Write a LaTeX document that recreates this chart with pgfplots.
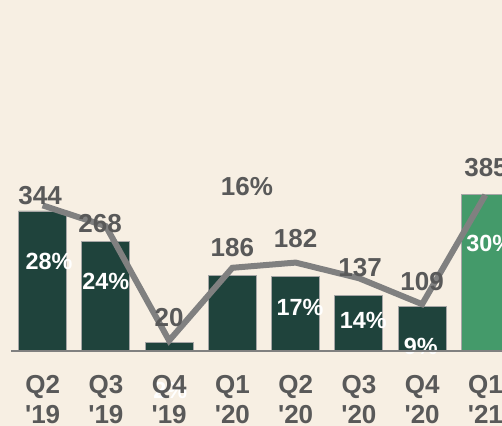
\documentclass[border=0pt]{standalone}
\usepackage{pgfplots}
\pgfplotsset{compat=1.18}
\usepackage{fontspec}
\setmainfont{Liberation Sans}
\definecolor{bg}{HTML}{F7EFE3}
\definecolor{dgreen}{HTML}{1F433C}
\definecolor{lgreen}{HTML}{449A6A}
\definecolor{lgray}{HTML}{808080}
\definecolor{tgray}{HTML}{595959}
\begin{document}
\begin{tikzpicture}[x=1pt,y=1pt]
\path[use as bounding box] (0,0) rectangle (251,213);
\fill[bg] (0,0) rectangle (251,213);
\clip (0,0) rectangle (251,213);
% bars and percentage labels
\begin{axis}[at={(5.5pt,37.5pt)}, anchor=south west, scale only axis,
  width=253pt, height=175.5pt, xmin=-0.5, xmax=7.5, ymin=0, ymax=862,
  axis lines=none, clip=false]
\addplot[ybar, bar width=24pt, fill=dgreen, draw=black!35, line width=0.4pt]
  coordinates {(0,344) (1,268) (2,20) (3,186) (4,182) (5,137) (6,109)};
\addplot[ybar, bar width=24pt, fill=lgreen, draw=black!35, line width=0.4pt]
  coordinates {(7,385)};
\begin{scope}[every node/.style={font=\fontsize{11.7}{14}\selectfont\bfseries, text=white, inner sep=0pt}]
\node at (axis cs:0.10,221) {28\%};
\node at (axis cs:1.00,172) {24\%};
\node at (axis cs:2.02,-96) {2\%};
\node at (axis cs:4.07,108) {17\%};
\node at (axis cs:5.07,76) {14\%};
\node at (axis cs:5.98,10) {9\%};
\node at (axis cs:7.07,265) {30\%};
\end{scope}
\end{axis}
% line, value labels, x axis
\begin{axis}[at={(5.5pt,37.5pt)}, anchor=south west, scale only axis,
  width=253pt, height=175.5pt, xmin=-0.5, xmax=7.5, ymin=0, ymax=67.5,
  axis x line=bottom, axis y line=none, clip=false,
  x axis line style={-, lgray, line width=0.75pt},
  major tick length=0pt,
  xtick={0,1,2,3,4,5,6,7},
  xticklabels={Q2\\\textquotesingle19, Q3\\\textquotesingle19, Q4\\\textquotesingle19, Q1\\\textquotesingle20, Q2\\\textquotesingle20, Q3\\\textquotesingle20, Q4\\\textquotesingle20, Q1\\\textquotesingle21},
  xticklabel style={align=center, font=\fontsize{13}{15}\selectfont\bfseries, text=tgray, inner sep=0pt, anchor=north, yshift=-12pt}]
\addplot[lgray, line width=3pt, no markers]
  coordinates {(0,28) (1,24) (2,2) (3,16) (4,17) (5,14) (6,9) (7,30)};
\begin{scope}[every node/.style={font=\fontsize{13}{15}\selectfont\bfseries, text=tgray, inner sep=0pt}]
\node at (axis cs:-0.04,29.8) {344};
\node at (axis cs:0.91,24.6) {268};
\node at (axis cs:2.00,6.5) {20};
\node at (axis cs:3.00,19.8) {186};
\node at (axis cs:4.00,21.7) {182};
\node at (axis cs:5.02,16.0) {137};
\node at (axis cs:6.00,13.3) {109};
\node at (axis cs:7.01,35.2) {385};
\node at (axis cs:3.23,31.7) {16\%};
\end{scope}
\end{axis}
\end{tikzpicture}
\end{document}
